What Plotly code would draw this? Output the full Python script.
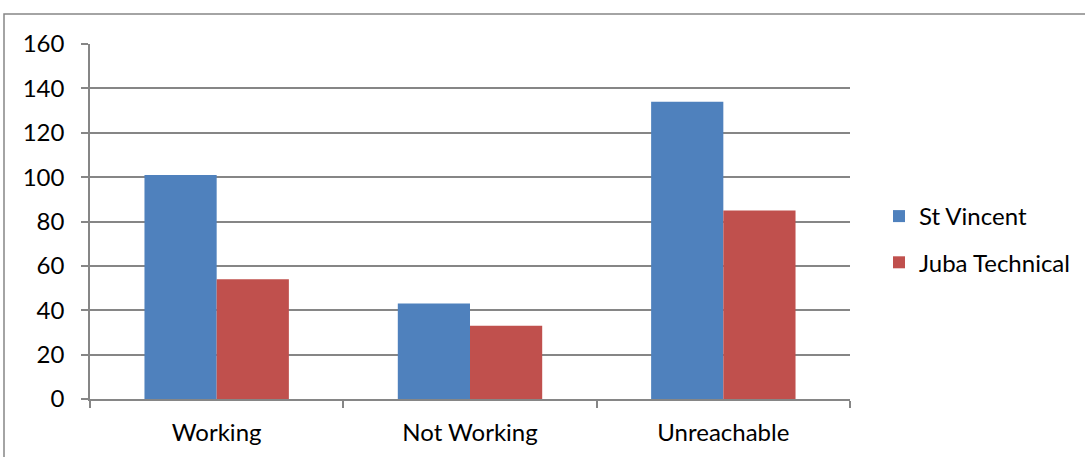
import plotly.graph_objects as go

categories = ["Working", "Not Working", "Unreachable"]
st_vincent = [101, 43, 134]
juba_technical = [54, 33, 85]
y_ticks = [0, 20, 40, 60, 80, 100, 120, 140, 160]

BLUE = "#4F81BD"
RED = "#C0504D"
GRID = "#868686"
FONT = "Lato"
FS = 24

fig = go.Figure()
fig.add_trace(go.Bar(x=categories, y=st_vincent, name="St Vincent",
                     marker=dict(color=BLUE, line=dict(width=0)), legendgroup="a"))
fig.add_trace(go.Bar(x=categories, y=juba_technical, name="Juba Technical",
                     marker=dict(color=RED, line=dict(width=0)), legendgroup="b"))

L, R, T, B = 90, 235, 44, 58
W, H = 1085, 457
pw = W - L - R
ph = H - T - B

def px_x(x):
    return (x - L) / pw

def px_y(y):
    return (H - B - y) / ph

fig.update_layout(
    width=W, height=H,
    margin=dict(l=L, r=R, t=T, b=B, autoexpand=False),
    paper_bgcolor="white", plot_bgcolor="white",
    font=dict(family=FONT, size=FS, color="#000000"),
    barmode="group", bargap=0.43, bargroupgap=0,
    showlegend=True,
    legend=dict(x=px_x(879), y=px_y(194), xanchor="left", yanchor="top",
                font=dict(family=FONT, size=FS, color="#000000"),
                tracegroupgap=12, traceorder="grouped",
                bgcolor="rgba(0,0,0,0)"),
    shapes=[dict(type="rect", xref="paper", yref="paper",
                 x0=px_x(4), x1=px_x(1100), y0=px_y(470), y1=px_y(14),
                 line=dict(color="#868686", width=1.5), fillcolor="rgba(0,0,0,0)",
                 layer="above")],
)
fig.update_xaxes(
    showline=True, linecolor=GRID, linewidth=1.5,
    ticks="outside", ticklen=7, tickcolor=GRID, tickwidth=1.5,
    tickson="boundaries", showgrid=False,
    ticklabelstandoff=11,
    tickfont=dict(family=FONT, size=FS, color="#000000"),
)
fig.update_yaxes(
    range=[0, 160], tickvals=y_ticks,
    showline=True, linecolor=GRID, linewidth=1.5,
    ticks="outside", ticklen=7, tickcolor=GRID, tickwidth=1.5,
    showgrid=True, gridcolor=GRID, gridwidth=1.5,
    zeroline=False,
    ticklabelstandoff=12,
    tickfont=dict(family=FONT, size=FS, color="#000000"),
)

fig.write_html("out.html", config={"displayModeBar": False},
               post_script="document.body.style.margin='0';")
